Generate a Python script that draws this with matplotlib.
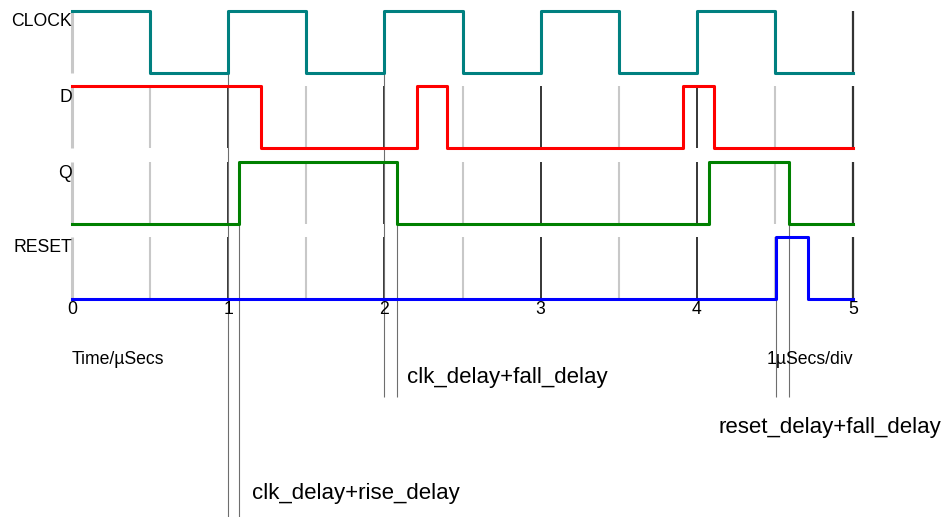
import matplotlib
matplotlib.use("Agg")
import matplotlib.pyplot as plt
import numpy as np

plt.rcParams['font.family'] = ['Liberation Sans', 'DejaVu Sans']

# Signal data (times in µs)
names = ["CLOCK", "D", "Q", "RESET"]
colors = ["#008080", "#ff0000", "#008000", "#0000ff"]
start_levels = [1, 1, 0, 0]
edges = [
    [0.5, 1.0, 1.5, 2.0, 2.5, 3.0, 3.5, 4.0, 4.5],
    [1.21, 2.21, 2.40, 3.91, 4.11],
    [1.07, 2.08, 4.08, 4.59],
    [4.51, 4.71],
]
t_end = 5.0
tick_values = [0, 1, 2, 3, 4, 5]

# Delay annotations: (cause time, effect time, label)
ann_times = [(1.0, 1.07), (2.0, 2.08), (4.51, 4.59)]
ann_labels = ["clk_delay+rise_delay", "clk_delay+fall_delay", "reset_delay+fall_delay"]

# Layout (pixel-like units on the y axis)
x0_px, px_per_us = 72, 156.2
lane_top = [11, 86, 162, 237]
lane_h = 62
ann_tops = [(63, 223), (12, 223), (237, 223)]
ann_bottoms = [517, 397, 397]
ann_text_pos = [(1.15, 493), (2.143, 378), (4.136, 428)]
small_fs = 12.7

fig = plt.figure(figsize=(9.46, 5.17), dpi=100)
ax = fig.add_axes([0, 0, 1, 1])
ax.set_xlim(-x0_px / px_per_us, (946 - x0_px) / px_per_us)
ax.set_ylim(517, 0)
ax.axis('off')

# grid lines inside each lane
for top in lane_top:
    for t in np.arange(0, t_end + 0.01, 0.5):
        if t == t_end:
            c, lw = '#333333', 1.6
        elif t == int(t) and t > 0:
            c, lw = 'black', 1.1
        else:
            c, lw = '#c8c8c8', 2.2 if t == 0 else 1.5
        ax.vlines(t, top, top + lane_h, colors=c, linewidth=lw, zorder=1)

# annotation lines
for (ta, tb), (ya, yb), yb_end in zip(ann_times, ann_tops, ann_bottoms):
    ax.vlines(ta, ya, yb_end, colors='#6e6e6e', linewidth=0.8, zorder=2)
    ax.vlines(tb, yb, yb_end, colors='#6e6e6e', linewidth=0.8, zorder=2)
for (tx, ty), lab in zip(ann_text_pos, ann_labels):
    ax.text(tx, ty, lab, fontsize=16, ha='left', va='center', color='black')

# signals
for i, name in enumerate(names):
    xs = [0.0] + edges[i] + [t_end]
    lv = [start_levels[i]]
    for _ in edges[i]:
        lv.append(1 - lv[-1])
    lv.append(lv[-1])
    ys = [lane_top[i] + (1 - v) * lane_h for v in lv]
    ax.step(xs, ys, where='post', color=colors[i], linewidth=2.2, zorder=3)
    ax.text(0, lane_top[i] + 11, name, fontsize=small_fs, ha='right', va='center')

# time axis labels
for t in tick_values:
    ax.text(t, 310, str(t), fontsize=small_fs, ha='center', va='center')
ax.text(0, 360, "Time/µSecs", fontsize=small_fs, ha='left', va='center')
ax.text(t_end, 360, "1µSecs/div", fontsize=small_fs, ha='right', va='center')

fig.savefig("out.png", dpi=100)
